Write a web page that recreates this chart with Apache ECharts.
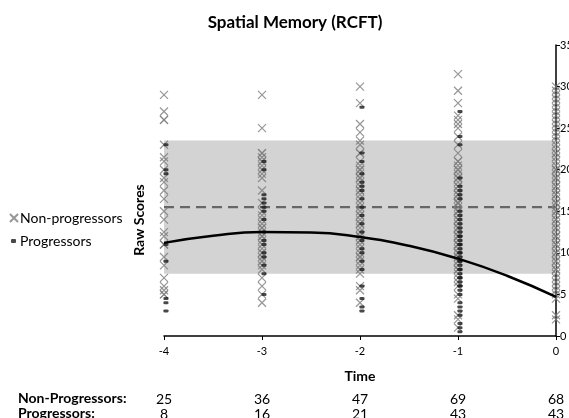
<!DOCTYPE html>
<html>
<head>
<meta charset="utf-8">
<script src="https://cdn.jsdelivr.net/npm/echarts@6/dist/echarts.min.js"></script>
<style>
  html, body { margin: 0; padding: 0; background: #fff; }
  #chart { width: 569px; height: 418px; }
</style>
</head>
<body>
<div id="chart"></div>
<script>
// Visit times (years relative to diagnosis / last visit)
const timePoints = [-4, -3, -2, -1, 0];

// Number of participants seen at each visit
const nonProgCounts = [25, 36, 47, 69, 68];
const progCounts = [8, 16, 21, 43, 43];

// Raw RCFT scores, non-progressors, one array per visit
const nonProgM4 = [29, 27, 26, 26, 23, 21.5, 21, 20, 19, 18.5, 17.5, 16.5, 15, 14, 12.5, 12,
  11, 11, 9.5, 8.5, 7, 6, 5.5, 5, 5];
const nonProgM3 = [29, 25, 22, 21.5, 21, 20.5, 20, 19.5, 19, 17.5, 16, 15, 14.5, 14, 13.5, 13,
  12.5, 12, 11.5, 11, 10.5, 10, 9.5, 9, 8.5, 8, 7, 6, 5, 4, 22, 21, 13, 10, 9, 12];
const nonProgM2 = [30, 28, 25.5, 24.5, 23.5, 23, 22, 20.5, 20, 19, 18, 17.5, 16.5, 15.5, 14.5,
  13.5, 13, 12, 11.5, 10.5, 9.5, 9, 8, 7.5, 6, 5.5, 4, 22, 21, 20, 19.5, 18.5, 17, 16, 15, 14,
  13.5, 12.5, 12, 11, 10, 9.5, 8.5, 19, 17.5, 14.5, 11.5];
const nonProgM1 = [31.5, 29.5, 28, 26.5, 26, 25.5, 25, 24, 23, 22, 21, 20.5, 20, 19.5, 19, 18,
  17.5, 17, 16.5, 16, 15.5, 15, 14.5, 14, 13.5, 13, 12.5, 12, 11.5, 11, 10.5, 10, 9.5, 9, 8.5,
  8, 7.5, 7, 6, 5, 4.5, 2, 1, 21, 20, 19, 18, 17, 16, 15, 14, 13, 12, 11, 10, 9, 8, 18.5, 16,
  14, 12, 10, 13, 15, 17, 11, 9.5, 6.5, 2.5];
const nonProg0 = [30, 29.5, 29, 28.5, 28, 27.5, 27, 26.5, 26, 25.5, 25, 24.5, 24, 23.5, 23,
  22.5, 22, 21.5, 21, 20.5, 20, 19.5, 19, 18.5, 18, 17.5, 17, 16.5, 16, 15.5, 15, 14.5, 14,
  13.5, 13, 12.5, 12, 11.5, 11, 10.5, 10, 9.5, 9, 8.5, 8, 7.5, 7, 6.5, 6, 5.5, 5, 4.5, 2.5, 2,
  22, 20, 18, 16, 15, 14, 13, 12, 11, 10, 9, 8, 17, 19];

// Raw RCFT scores, progressors, one array per visit
const progM4 = [23, 20, 19.5, 11, 9, 4.5, 4, 3];
const progM3 = [21, 20, 17, 16.5, 16, 15.5, 15, 14, 12.5, 11.5, 11, 10, 9.5, 8.5, 7.5, 5];
const progM2 = [27.5, 22, 21, 19.5, 18.5, 18, 17.5, 16.5, 15.5, 14.5, 13.5, 12.5, 11.5, 10.5,
  10, 9, 8, 6, 4.5, 3.5, 3];
const progM1 = [27, 24, 23, 19, 18, 17.5, 17, 16.5, 15, 14, 13.5, 13, 12.5, 12, 11.5, 11, 10.5,
  10, 9.5, 9, 8.5, 8, 7.5, 7, 6.5, 6, 5.5, 5, 4, 3.5, 3, 2.5, 1.5, 1, 0.5, 14.5, 12, 11, 10, 9,
  8, 7, 6];
const prog0 = [19.5, 19, 18.5, 18, 17.5, 17, 16.5, 16, 15.5, 15, 14.5, 14, 13.5, 13, 12.5, 12,
  11, 10.5, 10, 9.5, 9, 8.5, 8, 7.5, 7, 6.5, 6, 5.5, 5, 4.5, 4, 3.5, 3, 2.5, 1.5, 1, 0.5, 0,
  16, 14, 12, 10, 8];

// Normative reference: mean and +/- 1 SD band
const normMean = 15.5;
const normLow = 7.5;
const normHigh = 23.5;

// Fitted progressor trajectory
const curveTime = [-4, -3.5, -3, -2.5, -2, -1.5, -1, -0.5, 0];
const curveScore = [11.2, 12.05, 12.5, 12.45, 11.9, 10.85, 9.3, 7.25, 4.7];

// Right-hand score axis
const scoreMin = 0;
const scoreMax = 35;
const scoreStep = 5;

const FONT = 'Lato, "Liberation Sans", sans-serif';
const CROSS = 'path://M0,0L10,10M10,0L0,10';
const PROG_SHIFT = 0.02;

function toPoints(t, values, shift) {
  return values.map(v => [t + shift, v]);
}

const nonProgByVisit = [nonProgM4, nonProgM3, nonProgM2, nonProgM1, nonProg0];
const progByVisit = [progM4, progM3, progM2, progM1, prog0];
const nonProgData = [];
const progData = [];
timePoints.forEach((t, i) => {
  nonProgData.push(...toPoints(t, nonProgByVisit[i], 0));
  progData.push(...toPoints(t, progByVisit[i], PROG_SHIFT));
});

const chart = echarts.init(document.getElementById('chart'), null, { renderer: 'canvas' });

function countAxis(counts, offset) {
  return {
    type: 'value', min: timePoints[0], max: timePoints[timePoints.length - 1], interval: 1,
    position: 'bottom', offset: offset,
    axisLine: { show: false }, axisTick: { show: false }, splitLine: { show: false },
    axisLabel: {
      margin: 0, fontFamily: FONT, fontSize: 14, color: '#000',
      formatter: v => {
        const i = timePoints.indexOf(v);
        return i >= 0 ? String(counts[i]) : '';
      }
    }
  };
}

chart.setOption({
  animation: false,
  backgroundColor: '#fff',
  grid: {
    left: 164, right: 13, top: 45, bottom: 82,
    containLabel: false, outerBoundsMode: 'none'
  },
  legend: [
    {
      data: ['Non-progressors'], orient: 'vertical', left: 9, top: 211,
      itemWidth: 8, itemHeight: 8, padding: 0,
      textStyle: { fontFamily: FONT, fontSize: 14, color: '#000', padding: [0, 0, 0, -3] }
    },
    {
      data: ['Progressors'], orient: 'vertical', left: 11, top: 234,
      itemWidth: 5, itemHeight: 4, padding: 0,
      textStyle: { fontFamily: FONT, fontSize: 14, color: '#000', padding: [0, 0, 0, -1] }
    }
  ],
  xAxis: [
    {
      type: 'value', min: timePoints[0], max: timePoints[timePoints.length - 1], interval: 1,
      position: 'bottom',
      axisLine: { show: true, onZero: false, lineStyle: { color: '#000', width: 1.5 } },
      axisTick: { show: true, length: 4, lineStyle: { color: '#000', width: 1 } },
      splitLine: { show: false },
      axisLabel: { margin: 10, fontFamily: FONT, fontSize: 11, color: '#000' },
      name: 'Time', nameLocation: 'middle', nameGap: 33,
      nameTextStyle: { fontFamily: FONT, fontSize: 14, fontWeight: 'bold', color: '#000' }
    },
    countAxis(nonProgCounts, 56),
    countAxis(progCounts, 71)
  ],
  yAxis: {
    type: 'value', min: scoreMin, max: scoreMax, interval: scoreStep, position: 'right',
    axisLine: { show: true, lineStyle: { color: '#000', width: 1.5 } },
    axisTick: { show: true, length: 4, lineStyle: { color: '#000', width: 1 } },
    splitLine: { show: false },
    axisLabel: { margin: 4, fontFamily: FONT, fontSize: 11, color: '#000' }
  },
  graphic: [
    {
      type: 'text', x: 295, y: 23,
      style: {
        text: 'Spatial Memory (RCFT)', fontFamily: FONT, fontSize: 17, fontWeight: 'bold',
        fill: '#000', textAlign: 'center', textVerticalAlign: 'middle'
      }
    },
    {
      type: 'text', x: 139, y: 220, rotation: Math.PI / 2,
      style: {
        text: 'Raw Scores', fontFamily: FONT, fontSize: 14, fontWeight: 'bold',
        fill: '#000', textAlign: 'center', textVerticalAlign: 'middle'
      }
    },
    {
      type: 'text', x: 18, y: 398,
      style: {
        text: 'Non-Progressors:', fontFamily: FONT, fontSize: 14, fontWeight: 'bold',
        fill: '#000', textAlign: 'left', textVerticalAlign: 'middle'
      }
    },
    {
      type: 'text', x: 18, y: 413,
      style: {
        text: 'Progressors:', fontFamily: FONT, fontSize: 14, fontWeight: 'bold',
        fill: '#000', textAlign: 'left', textVerticalAlign: 'middle'
      }
    }
  ],
  series: [
    {
      name: 'Norm band', type: 'line', z: 1, silent: true,
      data: [[timePoints[0], normLow]], symbol: 'none', lineStyle: { opacity: 0 },
      markArea: {
        silent: true,
        itemStyle: { color: '#d3d3d3' },
        data: [[
          { coord: [timePoints[0], normHigh] },
          { coord: [timePoints[timePoints.length - 1], normLow] }
        ]]
      }
    },
    {
      name: 'Norm mean', type: 'line', z: 2, silent: true, symbol: 'none',
      data: [[timePoints[0], normMean], [timePoints[timePoints.length - 1], normMean]],
      lineStyle: { color: '#666', width: 2.2, type: [10, 6] }
    },
    {
      name: 'Non-progressors', type: 'scatter', z: 3,
      symbol: CROSS, symbolSize: 8,
      itemStyle: { color: 'rgba(0,0,0,0)', borderColor: '#7c7c7c', borderWidth: 1.2 },
      data: nonProgData
    },
    {
      name: 'Progressors', type: 'scatter', z: 4,
      symbol: 'roundRect', symbolSize: [5, 3],
      itemStyle: { color: '#1c1c1c' },
      data: progData
    },
    {
      name: 'Progressor trajectory', type: 'line', z: 5, silent: true, symbol: 'none',
      smooth: true,
      data: curveTime.map((t, i) => [t, curveScore[i]]),
      lineStyle: { color: '#000', width: 2.5 }
    }
  ]
});
</script>
</body>
</html>
